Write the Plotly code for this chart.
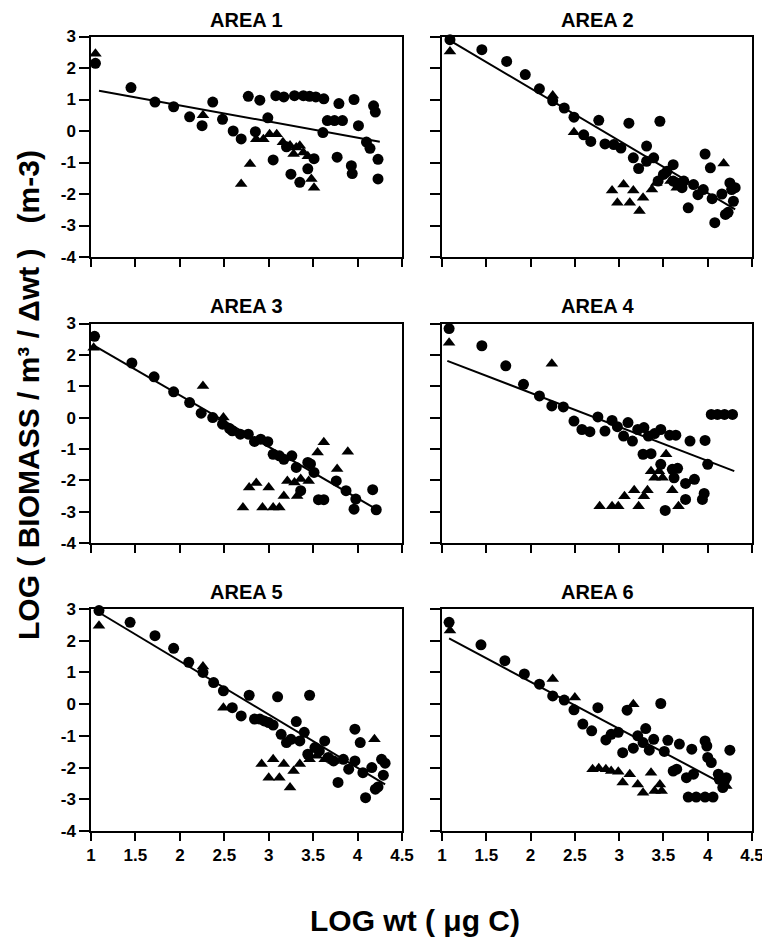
import plotly.graph_objects as go

# tick values / labels
xTickVals = [1, 1.5, 2, 2.5, 3, 3.5, 4, 4.5]
xTickText = ["1", "1.5", "2", "2.5", "3", "3.5", "4", "4.5"]
yTickVals = [-4, -3, -2, -1, 0, 1, 2, 3]
yTickText = ["-4", "-3", "-2", "-1", "0", "1", "2", "3"]
areaNames = ["AREA 1", "AREA 2", "AREA 3", "AREA 4", "AREA 5", "AREA 6"]

# AREA 1
a1CircX = [1.05, 1.45, 1.72, 1.93, 2.11, 2.25, 2.37, 2.48, 2.60, 2.69, 2.77, 2.85, 2.90, 2.99, 3.05, 3.08, 3.17,
           3.20, 3.25, 3.29, 3.35, 3.39, 3.44, 3.46, 3.51, 3.53, 3.62, 3.61, 3.66, 3.74, 3.79, 3.83, 3.77, 3.93,
           3.94, 3.96, 4.01, 4.10, 4.14, 4.18, 4.20, 4.23, 4.23]
a1CircY = [2.15, 1.38, 0.92, 0.77, 0.45, 0.17, 0.92, 0.37, 0.00, -0.25, 1.10, -0.02, 0.98, 0.42, -0.92, 1.12, 1.08,
           -0.50, -1.37, 1.12, -1.63, 1.12, -1.20, 1.10, -0.88, 1.08, 1.02, -0.05, 0.33, 0.33, 0.87, 0.33, -0.83,
           -1.10, -1.35, 1.00, 0.17, -0.35, -0.55, 0.80, 0.60, -0.90, -1.52]
a1TriX = [1.05, 2.26, 2.69, 2.79, 2.86, 2.94, 3.01, 3.09, 3.16, 3.24, 3.28, 3.31, 3.35, 3.39, 3.44, 3.48, 3.51]
a1TriY = [2.45, 0.50, -1.68, -1.05, -0.26, -0.26, -0.10, -0.10, -0.36, -0.46, -0.73, -0.52, -0.47, -0.68, -0.80,
          -1.52, -1.80]
a1LineX = [1.09, 4.25]
a1LineY = [1.28, -0.34]

# AREA 2
a2CircX = [1.09, 1.45, 1.73, 1.94, 2.10, 2.25, 2.38, 2.49, 2.60, 2.68, 2.77, 2.84, 2.94, 3.02, 3.11, 3.16, 3.22,
           3.31, 3.31, 3.39, 3.46, 3.44, 3.50, 3.54, 3.61, 3.61, 3.65, 3.71, 3.73, 3.78, 3.84, 3.89, 3.95, 3.97,
           4.03, 4.05, 4.08, 4.16, 4.20, 4.23, 4.25, 4.27, 4.29, 4.31]
a2CircY = [2.90, 2.58, 2.21, 1.79, 1.34, 0.96, 0.73, 0.44, -0.12, -0.33, 0.34, -0.41, -0.43, -0.54, 0.25, -0.85,
           -1.19, -0.48, -0.96, -0.85, 0.31, -1.59, -1.38, -1.28, -1.07, -1.59, -1.65, -1.80, -1.59, -2.44, -1.70,
           -2.02, -1.86, -0.73, -1.17, -2.15, -2.91, -2.00, -2.65, -2.58, -1.65, -1.86, -2.23, -1.80]
a2TriX = [1.09, 2.25, 2.49, 2.92, 3.05, 3.16, 2.98, 3.12, 3.23, 3.27, 3.37, 3.42, 3.50, 3.58, 3.65, 4.18]
a2TriY = [2.52, 1.13, -0.04, -1.89, -1.70, -1.89, -2.28, -2.28, -2.54, -2.12, -1.86, -1.65, -1.38, -1.59, -1.80,
          -1.03]
a2LineX = [1.11, 4.31]
a2LineY = [2.84, -2.49]

# AREA 3
a3CircX = [1.04, 1.46, 1.71, 1.93, 2.11, 2.24, 2.37, 2.48, 2.56, 2.59, 2.68, 2.77, 2.84, 2.91, 2.99, 3.05, 3.12,
           3.17, 3.26, 3.31, 3.36, 3.44, 3.47, 3.51, 3.56, 3.62, 3.76, 3.87, 3.96, 3.98, 4.17, 4.21]
a3CircY = [2.59, 1.74, 1.30, 0.82, 0.48, 0.14, 0.00, -0.21, -0.35, -0.42, -0.53, -0.53, -0.76, -0.69, -0.77, -1.17,
           -1.22, -1.33, -1.22, -1.59, -2.33, -1.43, -1.48, -1.75, -2.62, -2.62, -2.02, -2.33, -2.92, -2.60, -2.30,
           -2.94]
a3TriX = [1.03, 2.26, 2.49, 2.71, 2.78, 2.86, 2.93, 3.00, 3.05, 3.12, 3.17, 3.21, 3.29, 3.32, 3.36, 3.45, 3.55,
          3.62, 3.77, 3.89]
a3TriY = [2.23, 1.01, 0.00, -2.87, -2.23, -2.09, -2.87, -2.23, -2.87, -2.87, -2.50, -2.02, -2.07, -2.50, -1.96,
          -2.02, -1.11, -0.79, -1.64, -1.09]
a3LineX = [1.04, 4.21]
a3LineY = [2.29, -2.92]

# AREA 4
a4CircX = [1.08, 1.45, 1.72, 1.92, 2.10, 2.24, 2.37, 2.49, 2.58, 2.67, 2.76, 2.84, 2.92, 2.98, 3.05, 3.10, 3.15,
           3.21, 3.28, 3.33, 3.27, 3.36, 3.40, 3.47, 3.47, 3.57, 3.60, 3.64, 3.66, 3.62, 3.52, 3.75, 3.75, 3.80,
           3.85, 3.94, 3.96, 3.97, 4.00, 4.04, 4.11, 4.19, 4.28]
a4CircY = [2.84, 2.29, 1.65, 1.06, 0.69, 0.37, 0.34, -0.11, -0.38, -0.45, 0.02, -0.43, -0.09, -0.29, -0.59, -0.16,
           -0.75, -0.38, -0.32, -0.59, -1.17, -1.15, -0.51, -0.38, -1.49, -0.56, -1.65, -0.56, -1.62, -1.92, -2.96,
           -2.61, -2.10, -0.75, -1.97, -2.61, -2.42, -0.73, -1.49, 0.10, 0.10, 0.10, 0.10]
a4TriX = [1.08, 2.24, 2.78, 2.92, 2.99, 3.06, 3.17, 3.22, 3.28, 3.32, 3.36, 3.40, 3.45, 3.49, 3.53, 3.60, 3.67]
a4TriY = [2.39, 1.72, -2.83, -2.83, -2.83, -2.51, -2.32, -2.83, -2.51, -2.32, -1.71, -1.92, -1.71, -1.92, -1.17,
          -2.32, -2.83]
a4LineX = [1.06, 4.30]
a4LineY = [1.81, -1.71]

# AREA 5
a5CircX = [1.09, 1.44, 1.72, 1.93, 2.10, 2.26, 2.38, 2.49, 2.59, 2.69, 2.78, 2.84, 2.90, 2.95, 3.00, 3.05, 3.10,
           3.14, 3.20, 3.25, 3.31, 3.35, 3.40, 3.46, 3.44, 3.52, 3.57, 3.63, 3.67, 3.73, 3.78, 3.84, 3.90, 3.97,
           3.97, 4.03, 4.06, 4.09, 4.16, 4.20, 4.23, 4.27, 4.31, 4.29]
a5CircY = [2.95, 2.58, 2.16, 1.76, 1.32, 1.00, 0.68, 0.42, -0.11, -0.37, 0.28, -0.47, -0.47, -0.53, -0.58, -0.66,
           0.23, -0.95, -1.21, -1.11, -0.55, -1.16, -0.89, 0.28, -1.58, -1.37, -1.47, -1.16, -1.68, -1.79, -2.47,
           -1.74, -2.05, -1.79, -0.79, -1.21, -2.16, -2.95, -2.00, -2.68, -2.61, -1.74, -1.86, -2.24]
a5TriX = [1.09, 2.26, 2.49, 2.92, 3.05, 3.00, 3.12, 3.17, 3.24, 3.28, 3.35, 3.46, 3.54, 3.63, 3.73, 4.19]
a5TriY = [2.47, 1.19, -0.11, -1.89, -1.74, -2.32, -2.32, -1.89, -2.63, -2.11, -1.89, -1.74, -1.63, -1.74, -1.79,
          -1.11]
a5LineX = [1.09, 4.31]
a5LineY = [2.89, -2.53]

# AREA 6
a6CircX = [1.08, 1.44, 1.71, 1.93, 2.10, 2.25, 2.38, 2.49, 2.59, 2.69, 2.76, 2.85, 2.91, 2.99, 3.04, 3.09, 3.16,
           3.21, 3.27, 3.30, 3.34, 3.39, 3.47, 3.51, 3.55, 3.61, 3.65, 3.68, 3.76, 3.78, 3.82, 3.84, 3.87, 3.97,
           3.97, 3.99, 4.00, 4.04, 4.06, 4.12, 4.13, 4.17, 4.19, 4.21, 4.25]
a6CircY = [2.58, 1.87, 1.37, 0.95, 0.63, 0.26, 0.13, -0.18, -0.63, -0.84, -0.11, -1.13, -0.95, -0.89, -1.53, -0.19,
           -1.39, -1.00, -1.21, -0.77, -1.45, -1.11, 0.02, -1.49, -1.14, -2.11, -2.05, -1.26, -2.32, -2.93, -1.42,
           -2.21, -2.93, -2.93, -1.16, -1.32, -1.68, -1.84, -2.93, -2.21, -2.37, -2.63, -2.42, -2.32, -1.45]
a6TriX = [1.09, 2.25, 2.50, 2.70, 2.77, 2.85, 2.91, 2.99, 3.04, 3.12, 3.16, 3.21, 3.27, 3.36, 3.40, 3.46, 3.48, 4.21]
a6TriY = [2.32, 0.79, 0.21, -2.05, -2.02, -2.05, -2.11, -2.13, -2.47, -2.21, 0.00, -2.53, -2.79, -2.16, -2.74,
          -2.53, -2.74, -2.58]
a6LineX = [1.08, 4.25]
a6LineY = [2.07, -2.63]

areas = [
    (a1CircX, a1CircY, a1TriX, a1TriY, a1LineX, a1LineY),
    (a2CircX, a2CircY, a2TriX, a2TriY, a2LineX, a2LineY),
    (a3CircX, a3CircY, a3TriX, a3TriY, a3LineX, a3LineY),
    (a4CircX, a4CircY, a4TriX, a4TriY, a4LineX, a4LineY),
    (a5CircX, a5CircY, a5TriX, a5TriY, a5LineX, a5LineY),
    (a6CircX, a6CircY, a6TriX, a6TriY, a6LineX, a6LineY),
]

FONT = "Liberation Sans"
# the page body has an 8px margin, so the figure is drawn 8px in from the window corner
OFF = 8
W, H = 770 - OFF, 947 - OFF


def px(x):
    return (x - OFF) / W


def py(y):
    return 1 - (y - OFF) / H


colDomains = [[px(91), px(402)], [px(442), px(752)]]
rowDomains = [[py(257), py(36.5)], [py(543), py(323.5)], [py(831), py(609)]]


def boldList(labels):
    return ["<b>%s</b>" % t for t in labels]


fig = go.Figure()
annotations = []

for i, (cx, cy, tx, ty, lx, ly) in enumerate(areas):
    n = i + 1
    row, col = i // 2, i % 2
    xref = "x" if n == 1 else "x%d" % n
    yref = "y" if n == 1 else "y%d" % n

    fig.add_trace(go.Scatter(x=lx, y=ly, mode="lines", line=dict(color="black", width=2),
                             xaxis=xref, yaxis=yref, showlegend=False, cliponaxis=False))
    fig.add_trace(go.Scatter(x=tx, y=ty, mode="markers",
                             marker=dict(symbol="triangle-up", size=11, color="black"),
                             xaxis=xref, yaxis=yref, showlegend=False, cliponaxis=False))
    fig.add_trace(go.Scatter(x=cx, y=cy, mode="markers",
                             marker=dict(symbol="circle", size=11, color="black"),
                             xaxis=xref, yaxis=yref, showlegend=False, cliponaxis=False))

    fig.update_layout(**{
        ("xaxis" if n == 1 else "xaxis%d" % n): dict(
            domain=colDomains[col], anchor=yref, range=[1, 4.5],
            tickmode="array", tickvals=xTickVals, ticktext=boldList(xTickText), ticklen=8,
            showticklabels=(row == 2), tickfont=dict(size=17)),
        ("yaxis" if n == 1 else "yaxis%d" % n): dict(
            domain=rowDomains[row], anchor=xref, range=[-4, 3],
            tickmode="array", tickvals=yTickVals, ticktext=boldList(yTickText), ticklen=10,
            showticklabels=(col == 0), tickfont=dict(size=17)),
    })

    annotations.append(dict(
        text="<b>%s</b>" % areaNames[i], xref="paper", yref="paper",
        x=(colDomains[col][0] + colDomains[col][1]) / 2, y=rowDomains[row][1],
        xanchor="center", yanchor="bottom", yshift=4, showarrow=False,
        font=dict(size=20)))

fig.update_xaxes(showline=True, linecolor="black", linewidth=1.5, mirror=True, automargin=False,
                 ticks="outside", tickcolor="black", tickwidth=1.5, showgrid=False, zeroline=False)
fig.update_yaxes(showline=True, linecolor="black", linewidth=1.5, mirror=True, automargin=False,
                 ticks="outside", tickcolor="black", tickwidth=1.5, showgrid=False, zeroline=False)

annotations.append(dict(
    text="<b>LOG ( BIOMASS / m\u00b3 / \u0394wt )\u00a0\u00a0\u00a0(m-3)</b>",
    xref="paper", yref="paper", x=px(28), y=py(395), textangle=-90,
    xanchor="center", yanchor="middle", showarrow=False,
    font=dict(size=30)))
annotations.append(dict(
    text="<b>LOG wt ( \u03bcg C)</b>", xref="paper", yref="paper", x=px(415), y=py(920),
    xanchor="center", yanchor="middle", showarrow=False,
    font=dict(size=30)))

fig.update_layout(
    width=W, height=H,
    margin=dict(l=0, r=0, t=0, b=0, autoexpand=False),
    font=dict(family=FONT, size=16, color="black"),
    plot_bgcolor="white", paper_bgcolor="white",
    annotations=annotations,
)

fig.write_html("out.html")
